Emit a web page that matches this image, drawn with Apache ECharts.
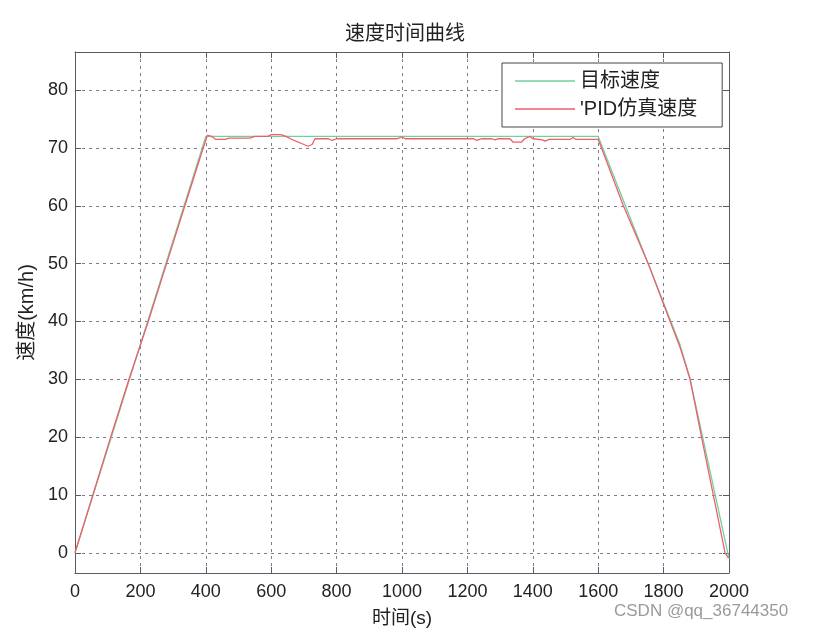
<!DOCTYPE html>
<html>
<head>
<meta charset="utf-8">
<script src="https://cdn.jsdelivr.net/npm/echarts@6/dist/echarts.min.js"></script>
<style>
html,body{margin:0;padding:0;background:#fff;}
#myChart{width:829px;height:635px;}
</style>
</head>
<body>
<div id="myChart"></div>
<script>
// 目标速度
var targetTime = [0, 400, 1600, 1850, 1880, 2000];
var targetSpeed = [0, 72, 72, 36, 30.3, -1];
// PID仿真速度
var pidTime = [0, 109, 165, 224, 280, 336, 392, 405, 418, 430, 460, 470, 535, 550, 590, 600, 630, 645, 670, 700, 713, 725, 734,
  775, 786, 800, 985, 1000, 1010, 1220, 1228, 1245, 1275, 1284, 1295, 1330, 1340, 1365, 1375, 1391, 1400, 1430, 1437, 1450,
  1515, 1523, 1531, 1600, 1677, 1753, 1820, 1850, 1881, 1916, 1952, 1988, 1998];
var pidSpeed = [0, 20, 30, 40, 50, 60, 70, 72.2, 72.0, 71.5, 71.5, 71.7, 71.7, 72.0, 72.0, 72.3, 72.3, 72.0, 71.3, 70.6, 70.3, 70.6, 71.6,
  71.6, 71.3, 71.6, 71.6, 71.9, 71.6, 71.6, 71.3, 71.6, 71.6, 71.4, 71.6, 71.6, 71.0, 71.0, 71.6, 72.0, 71.6, 71.4, 71.2, 71.5,
  71.5, 71.8, 71.5, 71.5, 60, 50, 40, 35.6, 30, 20, 10, 0, -0.9];
var yTicks = [0, 10, 20, 30, 40, 50, 60, 70, 80];

function pairs(xs, ys) {
  return xs.map(function (x, i) { return [x, ys[i]]; });
}

var font = 'Liberation Sans, Arial, Noto Sans CJK SC';
var frameColor = '#5a5a66';
var gridLine = { show: true, lineStyle: { color: '#7c7c8e', type: [3, 4], width: 1 } };

var myChart = echarts.init(document.getElementById('myChart'));
var option = {
  backgroundColor: '#ffffff',
  animation: false,
  textStyle: { fontFamily: font },
  title: {
    text: '速度时间曲线',
    left: 340,
    top: 19,
    textStyle: { fontSize: 20, fontWeight: 'normal', color: '#222', fontFamily: font }
  },
  grid: { left: 75, right: 100, top: 52, bottom: 62, containLabel: false },
  legend: {
    orient: 'vertical',
    left: 502,
    top: 63,
    padding: [8, 25, 8, 13],
    itemGap: 8,
    itemWidth: 60,
    itemHeight: 1.5,
    borderColor: '#444',
    borderWidth: 1,
    backgroundColor: '#fff',
    textStyle: { fontSize: 20, color: '#222', fontFamily: font },
    data: [{ name: '目标速度', icon: 'rect' }, { name: "'PID仿真速度", icon: 'rect' }]
  },
  xAxis: [{
    type: 'value',
    min: 0, max: 2000, interval: 200,
    name: '时间(s)',
    nameLocation: 'middle',
    nameGap: 36,
    nameTextStyle: { fontSize: 19, color: '#222' },
    axisLine: { show: true, onZero: false, lineStyle: { color: frameColor } },
    axisTick: { show: true, inside: true, length: 6, lineStyle: { color: frameColor } },
    axisLabel: { fontSize: 18, color: '#222', margin: 10, formatter: function (v) { return String(v); } },
    splitLine: gridLine
  }, {
    type: 'value', position: 'top',
    min: 0, max: 2000, interval: 200,
    axisLine: { show: true, onZero: false, lineStyle: { color: frameColor } },
    axisTick: { show: true, inside: true, length: 6, lineStyle: { color: frameColor } },
    axisLabel: { show: false },
    splitLine: { show: false }
  }],
  yAxis: [{
    type: 'value',
    min: -3.5, max: 86.6,
    name: '速度(km/h)',
    nameLocation: 'middle',
    nameGap: 35,
    nameTextStyle: { fontSize: 20, color: '#222' },
    axisLine: { show: true, onZero: false, lineStyle: { color: frameColor } },
    axisTick: { show: true, inside: true, length: 6, customValues: yTicks, lineStyle: { color: frameColor } },
    axisLabel: { fontSize: 18, color: '#222', margin: 7, customValues: yTicks },
    splitLine: gridLine
  }, {
    type: 'value', position: 'right',
    min: -3.5, max: 86.6,
    axisLine: { show: true, onZero: false, lineStyle: { color: frameColor } },
    axisTick: { show: true, inside: true, length: 6, customValues: yTicks, lineStyle: { color: frameColor } },
    axisLabel: { show: false, customValues: yTicks },
    splitLine: { show: false }
  }],
  series: [{
    name: '目标速度',
    type: 'line',
    symbol: 'none',
    color: '#72cf9f',
    lineStyle: { width: 1.3, color: '#72cf9f' },
    data: pairs(targetTime, targetSpeed)
  }, {
    name: "'PID仿真速度",
    type: 'line',
    symbol: 'none',
    color: '#ef5f6a',
    lineStyle: { width: 1.3, color: '#ef5f6a' },
    data: pairs(pidTime, pidSpeed)
  }],
  graphic: [{
    type: 'text',
    left: 614,
    top: 603,
    style: { text: 'CSDN @qq_36744350', fill: '#9a9a9a', fontSize: 17, fontFamily: font }
  }]
};
myChart.setOption(option);
window.onresize = function () {
  myChart.resize();
};
</script>
</body>
</html>
